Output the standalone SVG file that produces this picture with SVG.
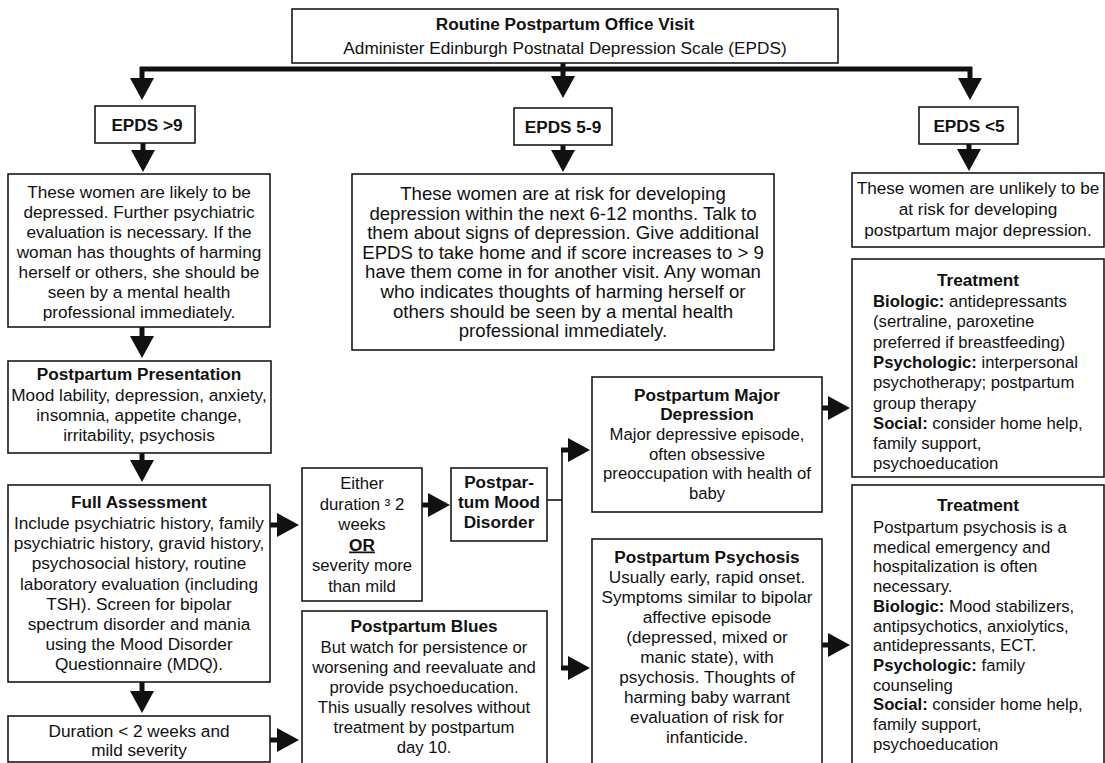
<svg xmlns="http://www.w3.org/2000/svg" width="1105" height="763" viewBox="0 0 1105 763">
<style>
.box{fill:#fff;stroke:#1a1a1a;stroke-width:1.6}
.t{font-family:"Liberation Sans",Arial,sans-serif;font-size:17.2px;fill:#111;text-anchor:middle}
.l{text-anchor:start}
.b{font-weight:bold}
.m{font-size:18.6px}
.s{font-size:16.7px}
.thick{fill:none;stroke:#111;stroke-width:5}
.thin{fill:none;stroke:#111;stroke-width:1.6}
</style>
<defs>
<marker id="ah" markerUnits="userSpaceOnUse" markerWidth="22" markerHeight="24" refX="2" refY="12" orient="auto">
<path d="M0,0 L22,12 L0,24 Z" fill="#111"/>
</marker>
</defs>
<rect width="1105" height="763" fill="#fff"/>

<g id="connectors">
<path class="thick" d="M563,63 V69"/>
<path class="thick" d="M140,69 H972"/>
<path class="thick" d="M142,67 V80" marker-end="url(#ah)"/>
<path class="thick" d="M563,69 V78" marker-end="url(#ah)"/>
<path class="thick" d="M970,67 V80" marker-end="url(#ah)"/>
<path class="thick" d="M143,143 V152" marker-end="url(#ah)"/>
<path class="thick" d="M563,145 V152" marker-end="url(#ah)"/>
<path class="thick" d="M969,144 V151" marker-end="url(#ah)"/>
<path class="thick" d="M142,327 V338" marker-end="url(#ah)"/>
<path class="thick" d="M142,453 V462" marker-end="url(#ah)"/>
<path class="thick" d="M142,682 V693" marker-end="url(#ah)"/>
<path class="thick" d="M270,525 H279" marker-end="url(#ah)"/>
<path class="thick" d="M270,740 H279" marker-end="url(#ah)"/>
<path class="thick" d="M422,505 H430" marker-end="url(#ah)"/>
<path class="thin" d="M547,500 H562"/>
<path class="thin" d="M562,450 V668"/>
<path class="thick" d="M561,450 H570" marker-end="url(#ah)"/>
<path class="thick" d="M561,668 H570" marker-end="url(#ah)"/>
<path class="thick" d="M822,408 H830" marker-end="url(#ah)"/>
<path class="thick" d="M822,645 H830" marker-end="url(#ah)"/>
</g>

<g id="visit">
<rect class="box" x="292" y="9" width="546" height="54"/>
<text class="t b" x="565" y="30" font-size="17">Routine Postpartum Office Visit</text>
<text class="t" x="565" y="54" font-size="18.9">Administer Edinburgh Postnatal Depression Scale (EPDS)</text>
</g>

<g id="epds-high">
<rect class="box" x="95" y="106" width="100" height="37"/>
<text class="t b" x="147" y="131" font-size="17.4">EPDS &gt;9</text>
</g>

<g id="epds-mid">
<rect class="box" x="514" y="108" width="98" height="37"/>
<text class="t b" x="563" y="133" font-size="17.4">EPDS 5-9</text>
</g>

<g id="epds-low">
<rect class="box" x="919" y="107" width="99" height="37"/>
<text class="t b" x="969" y="132" font-size="17.4">EPDS &lt;5</text>
</g>

<g id="likely">
<rect class="box" x="8" y="174" width="262" height="153"/>
<text class="t" x="139" y="198">These women are likely to be</text>
<text class="t" x="139" y="218">depressed. Further psychiatric</text>
<text class="t" x="139" y="238">evaluation is necessary. If the</text>
<text class="t" x="139" y="258">woman has thoughts of harming</text>
<text class="t" x="139" y="278">herself or others, she should be</text>
<text class="t" x="139" y="298">seen by a mental health</text>
<text class="t" x="139" y="318">professional immediately.</text>
</g>

<g id="atrisk">
<rect class="box" x="352" y="174" width="422" height="176"/>
<text class="t m" x="563" y="200">These women are at risk for developing</text>
<text class="t m" x="563" y="219.6">depression within the next 6-12 months. Talk to</text>
<text class="t m" x="563" y="239.2">them about signs of depression. Give additional</text>
<text class="t m" x="563" y="258.8">EPDS to take home and if score increases to &gt; 9</text>
<text class="t m" x="563" y="278.4">have them come in for another visit. Any woman</text>
<text class="t m" x="563" y="298">who indicates thoughts of harming herself or</text>
<text class="t m" x="563" y="317.6">others should be seen by a mental health</text>
<text class="t m" x="563" y="337.2">professional immediately.</text>
</g>

<g id="unlikely">
<rect class="box" x="852" y="173" width="252" height="74"/>
<text class="t" x="978" y="194" font-size="16.5">These women are unlikely to be</text>
<text class="t" x="978" y="215" font-size="16.5">at risk for developing</text>
<text class="t" x="978" y="236" font-size="16.5">postpartum major depression.</text>
</g>

<g id="presentation">
<rect class="box" x="8" y="361" width="263" height="92"/>
<text class="t b" x="139" y="380" font-size="16.6">Postpartum Presentation</text>
<text class="t" x="139" y="401">Mood lability, depression, anxiety,</text>
<text class="t" x="139" y="421">insomnia, appetite change,</text>
<text class="t" x="139" y="441">irritability, psychosis</text>
</g>

<g id="assessment">
<rect class="box" x="8" y="485" width="262" height="197"/>
<text class="t b" x="139" y="508" font-size="17.2">Full Assessment</text>
<text class="t" x="139" y="529" font-size="17.8">Include psychiatric history, family</text>
<text class="t" x="139" y="549" font-size="17.8">psychiatric history, gravid history,</text>
<text class="t" x="139" y="569" font-size="17.8">psychosocial history, routine</text>
<text class="t" x="139" y="589.5" font-size="17.8">laboratory evaluation (including</text>
<text class="t" x="139" y="610" font-size="17.8">TSH). Screen for bipolar</text>
<text class="t" x="139" y="630" font-size="17.8">spectrum disorder and mania</text>
<text class="t" x="139" y="650" font-size="17.8">using the Mood Disorder</text>
<text class="t" x="139" y="670" font-size="17.8">Questionnaire (MDQ).</text>
</g>

<g id="short-mild">
<rect class="box" x="8" y="716" width="262" height="46"/>
<text class="t" x="139" y="737">Duration &lt; 2 weeks and</text>
<text class="t" x="139" y="756">mild severity</text>
</g>

<g id="criteria">
<rect class="box" x="302" y="468" width="120" height="133"/>
<text class="t s" x="362" y="489">Either</text>
<text class="t s" x="362" y="509.5">duration ³ 2</text>
<text class="t s" x="362" y="530">weeks</text>
<text class="t b" x="362" y="550.5" font-size="18" text-decoration="underline">OR</text>
<text class="t s" x="362" y="571">severity more</text>
<text class="t s" x="362" y="591.5">than mild</text>
</g>

<g id="mood-disorder">
<rect class="box" x="451" y="468" width="96" height="73"/>
<text class="t b" x="499" y="488" font-size="17.4">Postpar-</text>
<text class="t b" x="499" y="508" font-size="17.4">tum Mood</text>
<text class="t b" x="499" y="527.5" font-size="17.4">Disorder</text>
</g>

<g id="blues">
<rect class="box" x="302" y="611" width="245" height="160"/>
<text class="t b" x="424" y="632">Postpartum Blues</text>
<text class="t s" x="424" y="653">But watch for persistence or</text>
<text class="t s" x="424" y="673">worsening and reevaluate and</text>
<text class="t s" x="424" y="693">provide psychoeducation.</text>
<text class="t s" x="424" y="713">This usually resolves without</text>
<text class="t s" x="424" y="733">treatment by postpartum</text>
<text class="t s" x="424" y="753">day 10.</text>
</g>

<g id="major-depression">
<rect class="box" x="592" y="377" width="230" height="135"/>
<text class="t b" x="707" y="401">Postpartum Major</text>
<text class="t b" x="707" y="420">Depression</text>
<text class="t s" x="707" y="440">Major depressive episode,</text>
<text class="t s" x="707" y="459.5">often obsessive</text>
<text class="t s" x="707" y="479">preoccupation with health of</text>
<text class="t s" x="707" y="498.5">baby</text>
</g>

<g id="psychosis">
<rect class="box" x="592" y="539" width="230" height="232"/>
<text class="t b" x="707" y="563">Postpartum Psychosis</text>
<text class="t" x="707" y="583">Usually early, rapid onset.</text>
<text class="t" x="707" y="603">Symptoms similar to bipolar</text>
<text class="t" x="707" y="623">affective episode</text>
<text class="t" x="707" y="643">(depressed, mixed or</text>
<text class="t" x="707" y="663">manic state), with</text>
<text class="t" x="707" y="683">psychosis. Thoughts of</text>
<text class="t" x="707" y="703">harming baby warrant</text>
<text class="t" x="707" y="723">evaluation of risk for</text>
<text class="t" x="707" y="743">infanticide.</text>
</g>

<g id="treatment-depression">
<rect class="box" x="852" y="259" width="252" height="218"/>
<text class="t b" x="978" y="286">Treatment</text>
<text class="t s l" x="873" y="307"><tspan class="b">Biologic:</tspan> antidepressants</text>
<text class="t s l" x="873" y="327.3">(sertraline, paroxetine</text>
<text class="t s l" x="873" y="347.6">preferred if breastfeeding)</text>
<text class="t s l" x="873" y="367.9"><tspan class="b">Psychologic:</tspan> interpersonal</text>
<text class="t s l" x="873" y="388.2">psychotherapy; postpartum</text>
<text class="t s l" x="873" y="408.5">group therapy</text>
<text class="t s l" x="873" y="428.8"><tspan class="b">Social:</tspan> consider home help,</text>
<text class="t s l" x="873" y="449.1">family support,</text>
<text class="t s l" x="873" y="469.4">psychoeducation</text>
</g>

<g id="treatment-psychosis">
<rect class="box" x="852" y="485" width="252" height="290"/>
<text class="t b" x="978" y="511">Treatment</text>
<text class="t s l" x="873" y="533">Postpartum psychosis is a</text>
<text class="t s l" x="873" y="552.7">medical emergency and</text>
<text class="t s l" x="873" y="572.4">hospitalization is often</text>
<text class="t s l" x="873" y="592.1">necessary.</text>
<text class="t s l" x="873" y="611.8"><tspan class="b">Biologic:</tspan> Mood stabilizers,</text>
<text class="t s l" x="873" y="631.5">antipsychotics, anxiolytics,</text>
<text class="t s l" x="873" y="651.2">antidepressants, ECT.</text>
<text class="t s l" x="873" y="670.9"><tspan class="b">Psychologic:</tspan> family</text>
<text class="t s l" x="873" y="690.6">counseling</text>
<text class="t s l" x="873" y="710.3"><tspan class="b">Social:</tspan> consider home help,</text>
<text class="t s l" x="873" y="730">family support,</text>
<text class="t s l" x="873" y="749.7">psychoeducation</text>
</g>
</svg>
